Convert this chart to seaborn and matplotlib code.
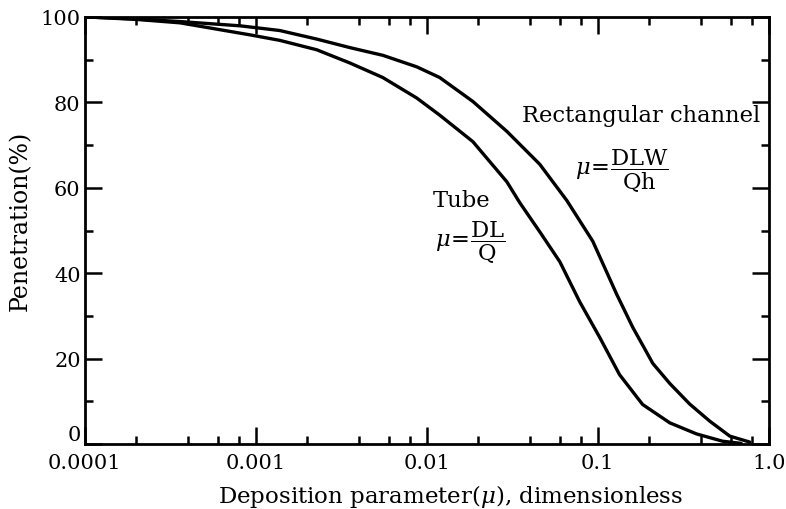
import numpy as np
import pandas as pd
import matplotlib
matplotlib.use("Agg")
import matplotlib.pyplot as plt
from matplotlib.ticker import FixedLocator, FixedFormatter, NullFormatter
import seaborn as sns

# ---- data ----
tube_mu = [0.0001, 0.0002, 0.00036, 0.00092, 0.00138, 0.00227, 0.00355, 0.00553,
           0.00874, 0.0119, 0.0186, 0.0294, 0.035, 0.0458, 0.060, 0.0785, 0.103,
           0.134, 0.183, 0.264, 0.379, 0.538, 0.69]
tube_pen = [100, 99.4, 98.6, 95.8, 94.5, 92.3, 89.2, 85.8,
            81.0, 77.0, 70.8, 61.4, 56.5, 49.7, 42.7, 33.3, 24.9,
            16.3, 9.3, 5.0, 2.4, 0.7, 0.2]

rect_mu = [0.0001, 0.0002, 0.00036, 0.00081, 0.00138, 0.00227, 0.00355, 0.00553,
           0.00874, 0.0119, 0.0186, 0.0294, 0.0458, 0.066, 0.0935, 0.129, 0.160,
           0.21, 0.264, 0.345, 0.452, 0.592, 0.775]
rect_pen = [100, 99.5, 98.9, 97.9, 96.8, 94.8, 92.8, 91.0,
            88.3, 85.8, 80.2, 73.2, 65.5, 57.0, 47.5, 35.1, 27.4,
            18.9, 14.2, 9.4, 5.4, 1.9, 0.5]

x_ticks = [0.0001, 0.001, 0.01, 0.1, 1.0]
x_tick_labels = ["0.0001", "0.001", "0.01", "0.1", "1.0"]
y_ticks = [0, 20, 40, 60, 80, 100]
y_minor = [10, 30, 50, 70, 90]

sns.set_theme(style="ticks")
plt.rcParams["font.family"] = ["DejaVu Serif"]
plt.rcParams["mathtext.fontset"] = "dejavuserif"
plt.rcParams["text.color"] = "black"
plt.rcParams["axes.labelcolor"] = "black"
plt.rcParams["xtick.color"] = "black"
plt.rcParams["ytick.color"] = "black"

tube_df = pd.DataFrame({"mu": tube_mu, "pen": tube_pen})
rect_df = pd.DataFrame({"mu": rect_mu, "pen": rect_pen})

fig = plt.figure(figsize=(7.86, 5.10), dpi=100)
ax = fig.add_axes([0.108, 0.127, 0.870, 0.838])

sns.lineplot(data=tube_df, x="mu", y="pen", ax=ax, color="black", linewidth=2.4,
             sort=False, estimator=None)
sns.lineplot(data=rect_df, x="mu", y="pen", ax=ax, color="black", linewidth=2.4,
             sort=False, estimator=None)

ax.set_xscale("log")
ax.set_xlim(1e-4, 1.0)
ax.set_ylim(0, 100)

ax.xaxis.set_major_locator(FixedLocator(x_ticks))
ax.xaxis.set_major_formatter(FixedFormatter(x_tick_labels))
minor_x = [m * d for d in [1e-4, 1e-3, 1e-2, 1e-1] for m in (2, 4, 6, 8)]
ax.xaxis.set_minor_locator(FixedLocator(minor_x))
ax.xaxis.set_minor_formatter(NullFormatter())
ax.yaxis.set_major_locator(FixedLocator(y_ticks))
ax.yaxis.set_minor_locator(FixedLocator(y_minor))

for s in ax.spines.values():
    s.set_linewidth(2.0)
    s.set_color("black")

ax.tick_params(which="both", direction="in", top=True, right=True,
               color="black", width=1.8, labelsize=15, labelcolor="black")
ax.tick_params(which="major", length=12)
ax.tick_params(which="minor", length=6)
ax.tick_params(axis="x", which="major", pad=6)
ax.tick_params(axis="y", which="major", pad=3)

ax.set_xlabel(r"Deposition parameter($\mu$), dimensionless", fontsize=16.5, color="black")
ax.set_ylabel("Penetration(%)", fontsize=17, color="black")
ax.xaxis.set_label_coords(0.535, -0.088)
ax.yaxis.set_label_coords(-0.077, 0.525)

# raise the "0" y tick label slightly above the axis, as in the reference
fig.canvas.draw()
ylabels = ax.get_yticklabels()
ylabels[0].set_verticalalignment("bottom")

ax.text(0.036, 75.6, "Rectangular channel", fontsize=16.3, ha="left", va="baseline")
ax.text(0.0733, 64.0, r"$\mu\!=\!\dfrac{\mathrm{DLW}}{\mathrm{Qh}}$", fontsize=16.3,
        ha="left", va="center")
ax.text(0.0108, 55.8, "Tube", fontsize=16.3, ha="left", va="baseline")
ax.text(0.0111, 47.3, r"$\mu\!=\!\dfrac{\mathrm{DL}}{\mathrm{Q}}$", fontsize=16.3,
        ha="left", va="center")

ax.set_facecolor("white")
fig.patch.set_facecolor("white")
fig.savefig("out.png", dpi=100)
